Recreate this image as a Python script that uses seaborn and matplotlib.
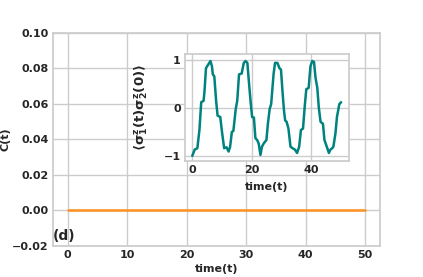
import numpy as np
import pandas as pd
import matplotlib
matplotlib.use('Agg')
import matplotlib.pyplot as plt
import seaborn as sns

# main curve C(t) (flat at zero)
t_main = [0, 10, 20, 30, 40, 50]
c_main = [0, 0, 0, 0, 0, 0]

# inset: <sigma1z(t) sigma2z(0)>
t_inset = [0, 0.8, 1.7, 2.4, 3.0, 3.8, 4.1, 4.6, 5.2, 6.1, 6.6, 6.9, 7.4, 8.0, 8.5, 9.4,
           9.9, 10.7, 11.5, 12.2, 12.7, 13.3, 13.8, 14.6, 15.1, 15.7, 16.6, 17.3, 17.9,
           18.5, 19.0, 19.6, 20.1, 20.7, 21.2, 21.8, 22.3, 22.9, 23.4, 24.0, 24.9, 25.4,
           26.0, 26.5, 27.3, 27.8, 28.6, 29.3, 29.8, 30.3, 30.8, 31.2, 31.7, 32.3, 33.0,
           33.7, 34.5, 35.2, 35.9, 36.5, 37.2, 37.8, 38.3, 39.1, 39.7, 40.3, 40.9, 41.4,
           42.0, 42.5, 43.1, 43.9, 44.4, 45.2, 45.9, 46.4, 47.0, 47.4, 48.1, 48.6, 49.4,
           50.0]
corr_inset = [-1.0, -0.87, -0.84, -0.46, 0.12, 0.15, 0.35, 0.83, 0.89, 0.98, 0.87, 0.70,
              0.66, 0.15, -0.16, -0.19, -0.46, -0.84, -0.82, -0.91, -0.81, -0.50, -0.48,
              -0.02, 0.15, 0.70, 0.72, 0.94, 0.98, 0.94, 0.56, 0.12, -0.19, -0.20, -0.63,
              -0.67, -0.74, -0.98, -0.81, -0.74, -0.67, -0.33, -0.02, 0.08, 0.70, 0.94,
              0.94, 0.83, 0.80, 0.35, -0.05, -0.26, -0.29, -0.43, -0.81, -0.84, -0.87,
              -0.94, -0.81, -0.46, -0.43, 0.05, 0.39, 0.42, 0.87, 0.98, 0.96, 0.63, 0.42,
              0.01, -0.29, -0.33, -0.67, -0.81, -0.94, -0.87, -0.84, -0.81, -0.53, -0.19,
              0.08, 0.12]

main_df = pd.DataFrame({'t': t_main, 'C': c_main})
inset_df = pd.DataFrame({'t': t_inset, 'corr': corr_inset})

sns.set_theme(style='whitegrid')
plt.rcParams['font.family'] = ['DejaVu Sans']
plt.rcParams['font.weight'] = 'bold'
plt.rcParams['mathtext.fontset'] = 'dejavusans'
plt.rcParams['mathtext.default'] = 'bf'

fs = 8

fig = plt.figure(figsize=(4.23, 2.77), dpi=100)
ax = fig.add_axes([0.125, 0.112, 0.773, 0.769])
sns.lineplot(data=main_df, x='t', y='C', color='#ff9020', linewidth=1.8, ax=ax)
ax.set_xlim(-2.5, 52.5)
ax.set_ylim(-0.02, 0.10)
ax.set_xticks([0, 10, 20, 30, 40, 50])
ax.set_yticks([-0.02, 0.00, 0.02, 0.04, 0.06, 0.08, 0.10])
ax.yaxis.set_major_formatter(plt.FuncFormatter(lambda v, _: f'{v:.2f}'.replace('-', '\u2212')))
ax.tick_params(labelsize=fs, length=0, pad=3)
for lbl in ax.get_xticklabels() + ax.get_yticklabels():
    lbl.set_fontweight('bold')
ax.set_xlabel('time(t)', fontsize=fs, fontweight='bold')
ax.set_ylabel('C(t)', fontsize=fs, fontweight='bold')
ax.xaxis.set_label_coords(0.5, -0.085)
ax.yaxis.set_label_coords(-0.131, 0.5)
ax.text(-2.5, -0.0184, '(d)', fontsize=10, fontweight='bold', ha='left', va='bottom')

ins = fig.add_axes([0.437, 0.420, 0.387, 0.384])
sns.lineplot(data=inset_df, x='t', y='corr', color='#00827f', linewidth=1.8, ax=ins)
ins.set_xlim(-2.5, 52.5)
ins.set_ylim(-1.1, 1.12)
ins.set_xticks([0, 20, 40])
ins.set_yticks([-1, 0, 1])
ins.yaxis.set_major_formatter(plt.FuncFormatter(lambda v, _: f'{v:.0f}'.replace('-', '\u2212')))
ins.tick_params(labelsize=fs, length=0, pad=3)
for lbl in ins.get_xticklabels() + ins.get_yticklabels():
    lbl.set_fontweight('bold')
ins.set_xlabel('time(t)', fontsize=fs, fontweight='bold')
ins.set_ylabel(r'$\langle\sigma_1^z(t)\sigma_2^z(0)\rangle$', fontsize=9.5)
ins.xaxis.set_label_coords(0.5, -0.2)
ins.yaxis.set_label_coords(-0.21, 0.5)

plt.savefig('out.png', dpi=100)
